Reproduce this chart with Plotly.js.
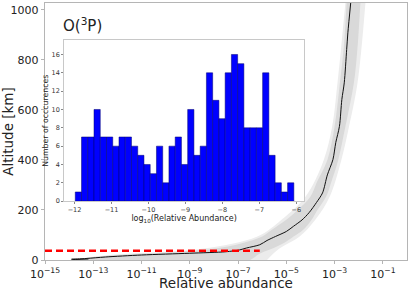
<!DOCTYPE html>
<html>
<head>
<meta charset="utf-8">
<script src="https://cdn.plot.ly/plotly-3.0.1.min.js"></script>
<style>html,body{margin:0;padding:0;background:#fff}#chart{width:415px;height:291px}</style>
</head>
<body>
<div id="chart"></div>
<script>
// ---- Main panel: mean profile (log10 relative abundance vs altitude, km) ----
const meanAlt = [0, 3, 6, 12, 20, 27, 33, 40, 48, 61, 78, 94, 114, 135, 160, 190, 230, 268, 340, 401, 470, 534, 641, 708, 841, 908, 1030];
const meanLog = [-13.2, -13.9, -13.3, -12.5, -11.0, -9.0, -7.5, -6.95, -6.65, -6.1, -5.8, -5.45, -5.0, -4.7, -4.35, -4.05, -3.75, -3.5, -3.3, -3.07, -2.95, -2.8, -2.7, -2.6, -2.5, -2.45, -2.33];

// Spread of the individual (gray) profiles: outer envelope
const outerAlt   = [0, 20, 45, 94, 161, 254, 400, 534, 708, 1030];
const outerLeft  = [-14.0, -12.3, -8.5, -6.2, -5.2, -4.2, -3.45, -3.1, -2.88, -2.55];
const outerRight = [-5.8, -5.6, -5.3, -4.45, -3.8, -3.2, -2.72, -2.4, -2.05, -1.72];

// dense core of the gray profiles
const coreAlt   = [0, 12, 20, 30, 45, 68, 94, 121, 161, 194, 254, 308, 400, 534, 708, 850, 1030];
const coreLeft  = [-13.9, -13.0, -12.0, -10.0, -8.0, -6.8, -6.0, -5.6, -5.0, -4.6, -4.0, -3.75, -3.3, -3.0, -2.78, -2.62, -2.5];
const coreRight = [-6.5, -6.3, -6.2, -6.0, -5.6, -5.1, -4.7, -4.3, -3.95, -3.75, -3.35, -3.15, -2.85, -2.55, -2.2, -2.05, -1.93];

// Red dashed reference level
const refAlt = 37;
const refLogRange = [-15, -6.1];

// ---- Inset histogram ----
const histStart = -11.98;
const histBinWidth = 0.169;
const histCounts = [1, 7, 7, 10, 7, 7, 6, 7, 7, 6, 5, 4, 3, 6, 2, 6, 7, 4, 10, 5, 6, 14, 11, 9, 14, 16, 15, 8, 8, 8, 14, 5, 2, 1, 2];

// tick labels
const mainXTickPow = [-15, -13, -11, -9, -7, -5, -3, -1];
const mainYTicks = [0, 200, 400, 600, 800, 1000];
const insetXTicks = [-12, -11, -10, -9, -8, -7, -6];
const insetYTicks = [0, 2, 4, 6, 8, 10, 12, 14, 16];

const pow10 = v => Math.pow(10, v);
const minus = n => (n < 0 ? '\u2212' + Math.abs(n) : String(n));

function band(alt, left, right, fillcolor) {
  return [
    {x: left.map(pow10), y: alt, type: 'scatter', mode: 'lines',
     line: {color: 'rgba(0,0,0,0)', width: 0, shape: 'spline'}, hoverinfo: 'skip', showlegend: false},
    {x: right.map(pow10), y: alt, type: 'scatter', mode: 'lines', fill: 'tonextx', fillcolor: fillcolor,
     line: {color: 'rgba(0,0,0,0)', width: 0, shape: 'spline'}, hoverinfo: 'skip', showlegend: false}
  ];
}

const traces = [
  ...band(outerAlt, outerLeft, outerRight, 'rgb(236,236,236)'),
  ...band(coreAlt, coreLeft, coreRight, 'rgb(217,217,217)'),
  {
    x: meanLog.map(pow10), y: meanAlt, type: 'scatter', mode: 'lines',
    line: {color: '#111', width: 1, shape: 'spline', smoothing: 0.8}, showlegend: false
  },
  {
    x: refLogRange.map(pow10), y: [refAlt, refAlt], type: 'scatter', mode: 'lines',
    line: {color: '#ff0000', width: 2.5, dash: '7px,4px'}, showlegend: false
  },
  {
    x: histCounts.map((c, i) => histStart + (i + 0.5) * histBinWidth),
    y: histCounts, type: 'bar', width: histBinWidth,
    marker: {color: '#0000ff', line: {color: '#00006e', width: 0.5}},
    xaxis: 'x2', yaxis: 'y2', showlegend: false
  }
];

const gray = '#b5b5b5';
const layout = {
  width: 415, height: 291,
  margin: {l: 45, r: 8, t: 3, b: 31},
  paper_bgcolor: '#fff', plot_bgcolor: '#fff',
  font: {family: 'DejaVu Sans', color: '#222'},
  showlegend: false,
  bargap: 0,
  xaxis: {
    type: 'log', range: [-15, 0],
    tickvals: mainXTickPow.map(pow10),
    ticktext: mainXTickPow.map(p => '10<sup>' + minus(p) + '</sup>'),
    tickfont: {size: 11, color: '#222'},
    ticks: 'outside', ticklen: 3, tickcolor: gray,
    showline: true, mirror: true, linecolor: gray, linewidth: 1.3,
    showgrid: false, zeroline: false,
    title: {text: 'Relative abundance', font: {size: 13.5, color: '#222'}, standoff: 2}
  },
  yaxis: {
    range: [0, 1027],
    tickvals: mainYTicks,
    tickfont: {size: 11, color: '#222'},
    ticks: 'outside', ticklen: 3, tickcolor: gray,
    showline: true, mirror: true, linecolor: gray, linewidth: 1.3,
    showgrid: false, zeroline: false,
    title: {text: 'Altitude [km]', font: {size: 13.5, color: '#222'}, standoff: 2}
  },
  xaxis2: {
    domain: [0.053, 0.7155], anchor: 'y2', range: [-12.28, -5.79],
    tickvals: insetXTicks, ticktext: insetXTicks.map(minus),
    tickfont: {size: 6.5, color: '#333'},
    ticks: 'outside', ticklen: 2, tickcolor: '#888',
    showline: true, mirror: true, linecolor: '#c8c8c8', linewidth: 1,
    showgrid: false, zeroline: false,
    title: {text: 'log<sub>10</sub>(Relative Abundance)', font: {size: 8, color: '#222'}, standoff: 1}
  },
  yaxis2: {
    domain: [0.229, 0.855], anchor: 'x2', range: [0, 17.55],
    tickvals: insetYTicks,
    tickfont: {size: 6.5, color: '#333'},
    ticks: 'outside', ticklen: 2, tickcolor: '#888',
    showline: true, mirror: true, linecolor: '#c8c8c8', linewidth: 1,
    showgrid: false, zeroline: false,
    title: {text: 'Number of occcurences', font: {size: 7.8, color: '#222'}, standoff: 1}
  },
  annotations: [
    {
      xref: 'paper', yref: 'paper', x: 0.044, y: 0.916, xanchor: 'left', yanchor: 'middle',
      text: 'O(<sup>3</sup>P)', showarrow: false, font: {size: 15, color: '#222'}
    }
  ]
};

Plotly.newPlot('chart', traces, layout, {displayModeBar: false, staticPlot: true});
</script>
</body>
</html>
